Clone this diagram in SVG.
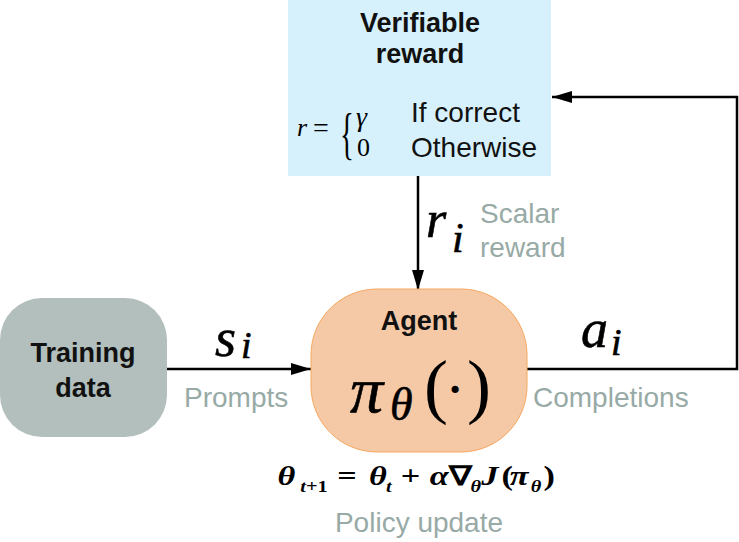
<svg xmlns="http://www.w3.org/2000/svg" width="739" height="542" viewBox="0 0 739 542">
<style>
.lbl{font-family:"Liberation Sans",Arial,sans-serif;font-weight:bold;fill:#111;}
.txt{font-family:"Liberation Sans",Arial,sans-serif;fill:#111;font-size:28px;}
.gray{font-family:"Liberation Sans",Arial,sans-serif;fill:#98aaa6;font-size:28px;}
.math{font-family:"Liberation Serif","Times New Roman",serif;font-style:italic;fill:#000;stroke:#000;stroke-width:0.6;}
.mathr{font-family:"Liberation Serif","Times New Roman",serif;fill:#000;}
.fm{font-family:"Liberation Serif","Times New Roman",serif;font-weight:bold;fill:#000;}
.conn{stroke:#000;stroke-width:2.5;fill:none;}
</style>
<defs>
<marker id="ah" viewBox="0 0 20 12" refX="20" refY="6" markerWidth="20" markerHeight="12" markerUnits="userSpaceOnUse" orient="auto">
<path d="M0,0 L20,6 L0,12 Z" fill="#000"/>
</marker>
</defs>
<g id="connectors">
<path class="conn" d="M167,369 L311,369" marker-end="url(#ah)"/>
<path class="conn" d="M418,176 L418,290" marker-end="url(#ah)"/>
<path class="conn" d="M527,369 L737,369 L737,97 L552,97" marker-end="url(#ah)"/>
</g>
<g id="verifiable-reward">
<rect x="288" y="0" width="263" height="176" fill="#d6f1fb"/>
<text class="lbl" x="420" y="32" font-size="27" text-anchor="middle">Verifiable</text>
<text class="lbl" x="420" y="63" font-size="27" text-anchor="middle">reward</text>
<text class="mathr" x="297" y="136" font-size="26" font-style="italic">r</text>
<text class="mathr" x="313" y="137" font-size="28">=</text>
<text class="mathr" x="340" y="153" font-size="58" transform="translate(340 153) scale(0.5 1) translate(-340 -153)">{</text>
<text class="mathr" x="356" y="126" font-size="28" font-style="italic">γ</text>
<text class="mathr" x="357" y="156" font-size="26">0</text>
<text class="txt" x="411" y="122">If correct</text>
<text class="txt" x="411" y="157">Otherwise</text>
</g>
<g id="training-data">
<rect x="0" y="298" width="167" height="139" rx="42" fill="#b2bfbc"/>
<text class="lbl" x="83" y="362" font-size="27" text-anchor="middle">Training</text>
<text class="lbl" x="83" y="397" font-size="27" text-anchor="middle">data</text>
</g>
<g id="agent">
<rect x="311" y="289" width="216" height="163" rx="66" fill="#f5c8a6" stroke="#f5a860" stroke-width="1"/>
<text class="lbl" x="419" y="330" font-size="27" text-anchor="middle">Agent</text>
<text class="math" x="350" y="412" font-size="66">π</text>
<text class="math" x="390" y="420" font-size="46">θ</text>
<text class="mathr" x="424" y="410" font-size="72">(</text>
<text class="mathr" x="455" y="404" font-size="44" font-weight="bold" text-anchor="middle">·</text>
<text class="mathr" x="467" y="410" font-size="72">)</text>
</g>
<g id="labels">
<text class="math" x="215" y="356" font-size="54">s</text>
<text class="math" x="241" y="358" font-size="38">i</text>
<text class="gray" x="184" y="407">Prompts</text>
<text class="math" x="426" y="237" font-size="52">r</text>
<text class="math" x="452" y="252" font-size="42">i</text>
<text class="gray" x="480" y="223">Scalar</text>
<text class="gray" x="480" y="257">reward</text>
<text class="math" x="581" y="347" font-size="54">a</text>
<text class="math" x="611" y="355" font-size="38">i</text>
<text class="gray" x="533" y="407">Completions</text>
<text class="fm" y="485" font-size="27" transform="translate(280 0) scale(1.27 1) translate(-280 0)"><tspan x="278" font-style="italic">θ</tspan><tspan x="296" y="492" font-size="16" font-style="italic">t</tspan><tspan font-size="16">+1</tspan><tspan x="325" y="485">=</tspan><tspan x="350" font-style="italic">θ</tspan><tspan x="363.5" y="492" font-size="16" font-style="italic">t</tspan><tspan x="375" y="485">+</tspan><tspan x="398" font-style="italic">α</tspan><tspan x="413">∇</tspan><tspan x="430" y="492" font-size="16" font-style="italic">θ</tspan><tspan x="438.5" y="485" font-style="italic">J</tspan><tspan x="454.5">(</tspan><tspan x="461" font-style="italic">π</tspan><tspan x="477.5" y="492" font-size="16" font-style="italic">θ</tspan><tspan x="487.5" y="485">)</tspan></text>
<text class="gray" x="419" y="532" text-anchor="middle">Policy update</text>
</g>
</svg>
